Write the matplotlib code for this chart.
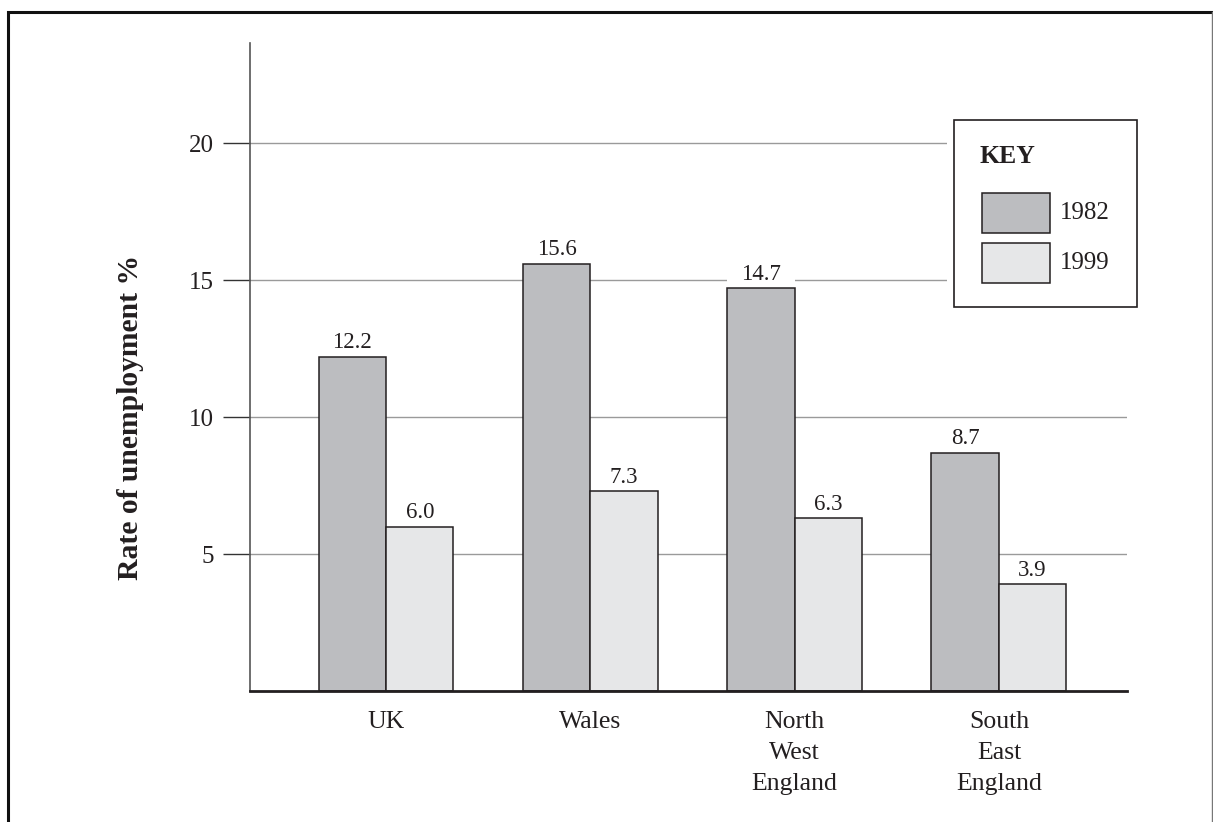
import matplotlib
matplotlib.use("Agg")
import matplotlib.pyplot as plt
from matplotlib.patches import Rectangle
from matplotlib.lines import Line2D
import numpy as np

regions = ["UK", "Wales", "North\nWest\nEngland", "South\nEast\nEngland"]
years = ["1982", "1999"]
rate_1982 = [12.2, 15.6, 14.7, 8.7]
rate_1999 = [6.0, 7.3, 6.3, 3.9]
y_ticks = [5, 10, 15, 20]

colors = ["#bcbdc0", "#e6e7e8"]
edge = "#231f20"

W, H = 1213, 822


def fx(x):
    return x / W


def fy(y):
    return 1 - y / H


def main():
    plt.rcParams["font.family"] = ["Liberation Serif", "DejaVu Serif"]

    fig = plt.figure(figsize=(W / 100, H / 100), dpi=100)
    ax = fig.add_axes([fx(250), fy(691), fx(1127) - fx(250), fy(43) - fy(691)])

    x = np.arange(len(regions))
    width = 0.33

    for i, vals in enumerate([rate_1982, rate_1999]):
        pos = x + (i - 0.5) * width
        ax.bar(pos, vals, width, color=colors[i], edgecolor=edge,
               linewidth=1.1, zorder=3)
        # white strip above each bar so the value label sits clear of grid lines
        ax.bar(pos, 0.8, width, bottom=vals, color="white", linewidth=0,
               zorder=2)
        for px_, v in zip(pos, vals):
            ax.annotate(f"{v:.1f}", (px_, v), xytext=(0, 2.5),
                        textcoords="offset points", ha="center", va="bottom",
                        fontsize=16.5, color="#231f20", zorder=4)

    ax.set_xlim(-0.666, 3.627)
    ax.set_ylim(0, 23.65)

    ax.set_yticks(y_ticks)
    ax.set_yticklabels([str(t) for t in y_ticks], fontsize=18, color="#231f20")
    ax.tick_params(axis="y", direction="out", length=19.5, width=1.0,
                   color="#333333", pad=6.5)
    ax.set_xticks(x)
    ax.set_xticklabels(regions, fontsize=18.5, color="#231f20",
                       linespacing=1.52)
    ax.tick_params(axis="x", length=0, pad=14.5)

    ax.yaxis.grid(True, color="#9a9a9a", linewidth=1.0, zorder=1)
    ax.set_axisbelow(True)

    for side in ["top", "right"]:
        ax.spines[side].set_visible(False)
    ax.spines["left"].set_color("#555555")
    ax.spines["left"].set_linewidth(1.2)
    ax.spines["bottom"].set_color("#231f20")
    ax.spines["bottom"].set_linewidth(2.0)
    ax.spines["bottom"].set_zorder(4)

    fig.text(fx(131), fy(417), "Rate of unemployment %", rotation=90,
             ha="center", va="center", fontsize=21.3, fontweight="bold",
             color="#231f20")

    # key box, with a white margin that hides the grid lines behind it
    fig.add_artist(Rectangle((fx(947), fy(314)), fx(1144) - fx(947),
                             fy(113) - fy(314), transform=fig.transFigure,
                             fc="white", ec="none", zorder=5))
    fig.add_artist(Rectangle((fx(954), fy(307)), fx(1137) - fx(954),
                             fy(120) - fy(307), transform=fig.transFigure,
                             fc="white", ec=edge, lw=1.2, zorder=6))
    fig.text(fx(980), fy(163), "KEY", fontsize=18.5, fontweight="bold",
             ha="left", va="baseline", color="#231f20", zorder=7)
    for i, yr in enumerate(years):
        top = 193 + i * 50
        fig.add_artist(Rectangle((fx(982), fy(top + 40)), fx(1050) - fx(982),
                                 fy(top) - fy(top + 40),
                                 transform=fig.transFigure, fc=colors[i],
                                 ec=edge, lw=1.1, zorder=7))
        fig.text(fx(1060), fy(top + 20), yr, fontsize=18, ha="left",
                 va="center", color="#231f20", zorder=7)

    # outer frame: heavy left/top, light right edge, open at the bottom
    frame = [(7.5, 830), (7.5, 12.5), (1211.5, 12.5)]
    fig.add_artist(Line2D([fx(p[0]) for p in frame], [fy(p[1]) for p in frame],
                          transform=fig.transFigure, color="#111111", lw=2.2,
                          solid_joinstyle="miter", zorder=8))
    fig.add_artist(Line2D([fx(1211.5), fx(1211.5)], [fy(12.5), fy(830)],
                          transform=fig.transFigure, color="#777777", lw=1.0,
                          zorder=8))

    fig.savefig("out.png", dpi=100)


if __name__ == "__main__":
    main()
